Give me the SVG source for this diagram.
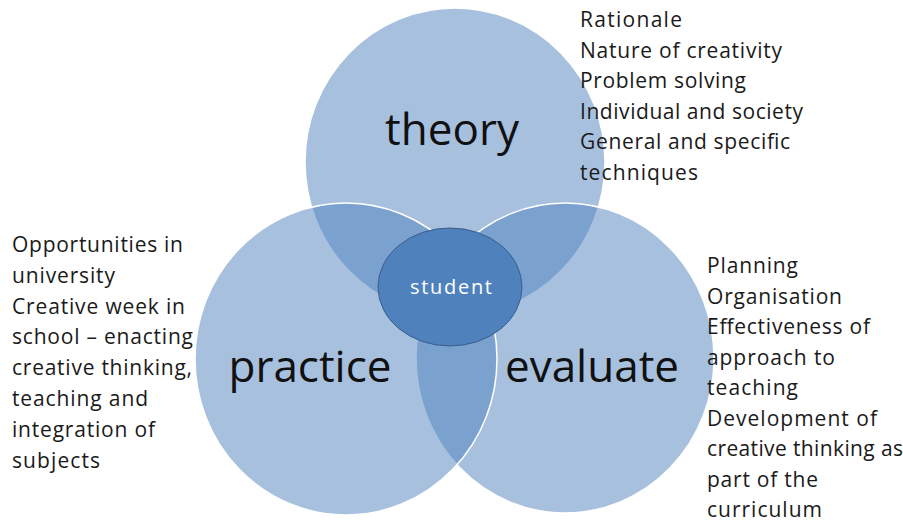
<svg xmlns="http://www.w3.org/2000/svg" width="903" height="523" viewBox="0 0 903 523">
<style>
.circ{fill:#4f81bd;fill-opacity:0.5;stroke:#ffffff;stroke-width:1.5}
.big{font-family:"Open Sans","Noto Sans","Liberation Sans",sans-serif;font-size:44px;fill:#111;text-anchor:middle}
.note{font-family:"Open Sans","Noto Sans","Liberation Sans",sans-serif;font-size:21px;fill:#1a1a1a}
.stu{font-family:"Open Sans","Noto Sans","Liberation Sans",sans-serif;font-size:20px;fill:#ffffff;text-anchor:middle}
</style>
<rect width="903" height="523" fill="#ffffff"/>
<g id="theory">
  <ellipse class="circ" cx="455" cy="162" rx="150" ry="154"/>
</g>
<g id="evaluate">
  <ellipse class="circ" cx="565" cy="358" rx="149" ry="155"/>
</g>
<g id="practice">
  <ellipse class="circ" cx="346" cy="359" rx="151" ry="156"/>
</g>
<g id="labels-big">
  <text class="big" x="452" y="145">theory</text>
  <text class="big" x="310" y="382">practice</text>
  <text class="big" x="592" y="382">evaluate</text>
</g>
<g id="student">
  <ellipse cx="450" cy="287" rx="72" ry="59" fill="#4f81bd" stroke="#385d8a" stroke-width="1"/>
  <text class="stu" x="451" y="294" textLength="82">student</text>
</g>
<g id="theory-notes" class="note">
  <text x="580" y="27" textLength="102">Rationale</text>
  <text x="580" y="57.5" textLength="202">Nature of creativity</text>
  <text x="580" y="88" textLength="166">Problem solving</text>
  <text x="580" y="118.5" textLength="223">Individual and society</text>
  <text x="580" y="149" textLength="210">General and specific</text>
  <text x="580" y="179.5" textLength="118">techniques</text>
</g>
<g id="practice-notes" class="note">
  <text x="12" y="252" textLength="171">Opportunities in</text>
  <text x="12" y="282.8" textLength="103">university</text>
  <text x="12" y="313.6" textLength="173">Creative week in</text>
  <text x="12" y="344.4" textLength="181">school – enacting</text>
  <text x="12" y="375.2" textLength="180">creative thinking,</text>
  <text x="12" y="406" textLength="136">teaching and</text>
  <text x="12" y="436.8" textLength="143">integration of</text>
  <text x="12" y="467.6" textLength="88">subjects</text>
</g>
<g id="evaluate-notes" class="note">
  <text x="707" y="273" textLength="91">Planning</text>
  <text x="707" y="303.5" textLength="135">Organisation</text>
  <text x="707" y="334" textLength="163">Effectiveness of</text>
  <text x="707" y="364.5" textLength="128">approach to</text>
  <text x="707" y="395" textLength="91">teaching</text>
  <text x="707" y="425.5" textLength="170">Development of</text>
  <text x="707" y="456" textLength="196">creative thinking as</text>
  <text x="707" y="486.5" textLength="111">part of the</text>
  <text x="707" y="517" textLength="115">curriculum</text>
</g>
</svg>
